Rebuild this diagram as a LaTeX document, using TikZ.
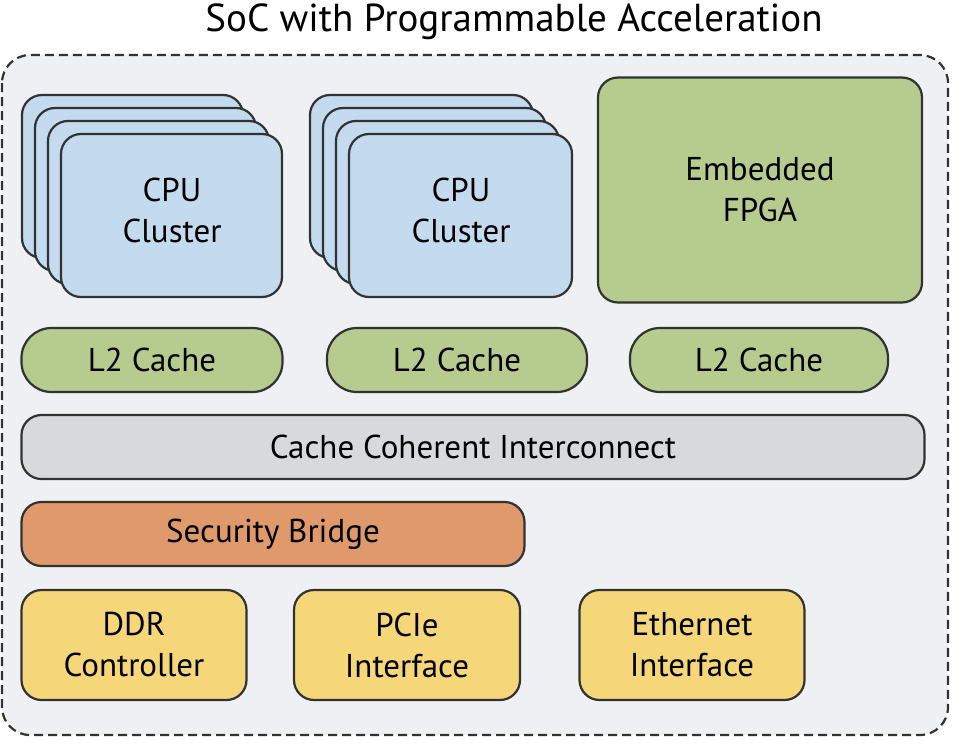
\documentclass[tikz,border=0pt]{standalone}
\usepackage{fontspec}
\setmainfont{PT Sans}
\definecolor{cpublue}{RGB}{196,218,238}
\definecolor{fpgagreen}{RGB}{181,204,142}
\definecolor{icgray}{RGB}{216,217,219}
\definecolor{secorange}{RGB}{224,153,107}
\definecolor{ioyellow}{RGB}{245,214,121}
\definecolor{socbg}{RGB}{238,240,243}
\definecolor{edge}{RGB}{50,50,50}
\tikzset{every picture/.style={line width=2.2pt}}
\tikzset{
  lbl/.style={font=\fontsize{33}{41}\selectfont, align=center},
  blk/.style={draw=edge, rounded corners=20pt, lbl, inner sep=0pt},
  pill/.style={draw=edge, rounded corners=30pt, lbl, inner sep=0pt}
}

\begin{document}
\begin{tikzpicture}[x=1pt,y=1pt,yscale=-1,xscale=1]
\useasboundingbox (0,0) rectangle (962,744);

% Outer frame
\draw [draw=edge, dashed, dash pattern=on 9pt off 5pt, fill=socbg, rounded corners=28pt] (2,55) rectangle (948,735);
% Title
\node (title) at (514,22) [font=\fontsize{39}{44}\selectfont] {SoC with Programmable Acceleration};

% CPU cluster stacks
\foreach \dx in {0,13,26,39} {
  \draw [blk, fill=cpublue] (22+\dx,95+\dx) rectangle (243+\dx,258+\dx);
  \draw [blk, fill=cpublue] (310+\dx,95+\dx) rectangle (533+\dx,258+\dx);
}
\node (cpua) at (172,210) [lbl] {CPU\\Cluster};
\node (cpub) at (461,210) [lbl] {CPU\\Cluster};

% Embedded FPGA
\node (fpga) [blk, fill=fpgagreen, minimum width=324pt, minimum height=225pt] at (760,190) {};
\node (fpgatext) at (760,190) [lbl] {Embedded\\FPGA};

% L2 caches
\node (l2a) [pill, fill=fpgagreen, minimum width=261pt, minimum height=64pt] at (152,360) {L2 Cache};
\node (l2b) [pill, fill=fpgagreen, minimum width=260pt, minimum height=64pt] at (457,360) {L2 Cache};
\node (l2c) [pill, fill=fpgagreen, minimum width=258pt, minimum height=64pt] at (759,360) {L2 Cache};

% Interconnect and bridge
\node (cci) [blk, fill=icgray, minimum width=903pt, minimum height=64pt] at (473,447) {Cache Coherent Interconnect};
\node (sec) [blk, fill=secorange, minimum width=503pt, minimum height=64pt] at (273,534) {Security Bridge};

% I/O blocks
\node (ddr) [blk, fill=ioyellow, minimum width=225pt, minimum height=110pt] at (134,645) {DDR\\Controller};
\node (pcie) [blk, fill=ioyellow, minimum width=226pt, minimum height=110pt] at (407,645) {PCIe\\Interface};
\node (eth) [blk, fill=ioyellow, minimum width=225pt, minimum height=110pt] at (692,645) {Ethernet\\Interface};

\end{tikzpicture}
\end{document}
